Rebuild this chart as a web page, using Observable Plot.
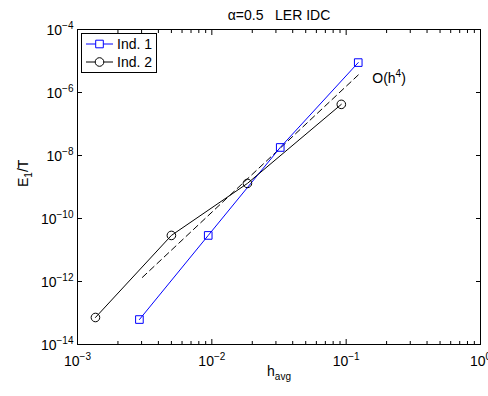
<!DOCTYPE html>
<html><head><meta charset="utf-8">
<script src="https://cdn.jsdelivr.net/npm/d3@7"></script>
<script src="https://cdn.jsdelivr.net/npm/@observablehq/plot@0.6"></script>
<style>
body{margin:0;background:#fff;}
#chart{position:relative;width:488px;height:396px;overflow:hidden;background:#fff;}
#legend{position:absolute;left:0;top:0;}
</style></head><body><div id="chart"></div>
<script>
// ---- data ----
const titleText = "α=0.5\u00a0\u00a0\u00a0LER IDC";
const xLabel = "h_{avg}";
const yLabel = "E_{1}/T";
const seriesNames = ["Ind. 1", "Ind. 2"];
const seriesColors = ["#0000ff", "#000000"];
const seriesSymbols = ["square", "circle"];
const ind1H = [0.00289, 0.0094, 0.0323, 0.123];
const ind1E = [6.2e-14, 2.9e-11, 1.8e-8, 8.9e-6];
const ind2H = [0.00136, 0.0050, 0.0184, 0.092];
const ind2E = [7.2e-14, 2.9e-11, 1.3e-9, 4.2e-7];
const refH = [0.00304, 0.123];
const refE = [1.35e-12, 3.6e-6];
const refLabel = "O(h^{4})";
const xMajor = [1e-3, 1e-2, 1e-1, 1];
const yMajor = [1e-14, 1e-12, 1e-10, 1e-8, 1e-6, 1e-4];

const xMinor = d3.scaleLog().domain([xMajor[0], xMajor[xMajor.length - 1]]).ticks()
  .filter(v => !xMajor.some(m => Math.abs(Math.log10(v) - Math.log10(m)) < 1e-9));
const pow10 = d => "10^{" + Math.round(Math.log10(d)) + "}";

const series = [
  {name: seriesNames[0], color: seriesColors[0], symbol: seriesSymbols[0], pts: ind1H.map((h, i) => ({h, e: ind1E[i]}))},
  {name: seriesNames[1], color: seriesColors[1], symbol: seriesSymbols[1], pts: ind2H.map((h, i) => ({h, e: ind2E[i]}))}
];
const refPts = refH.map((h, i) => ({h, e: refE[i]}));
const R = 4.3;

const FONT = "'Liberation Sans', Arial, Helvetica, sans-serif";

const plot = Plot.plot({
  width: 488, height: 396,
  marginLeft: 77, marginRight: 8, marginTop: 29, marginBottom: 52,
  x: {type: "log", domain: [xMajor[0], xMajor[xMajor.length - 1]]},
  y: {type: "log", domain: [yMajor[0], yMajor[yMajor.length - 1]]},
  style: {fontFamily: FONT, fontSize: "14px", background: "white", color: "black", overflow: "visible"},
  marks: [
    Plot.frame({stroke: "black"}),
    // minor & major inward ticks
    Plot.axisX(xMinor, {anchor: "bottom", tickSize: -3, fill: "none", label: null}),
    Plot.axisX(xMinor, {anchor: "top", tickSize: -3, fill: "none", label: null}),
    Plot.axisX(xMajor, {anchor: "bottom", tickSize: -5, fill: "none", label: null}),
    Plot.axisX(xMajor, {anchor: "top", tickSize: -5, fill: "none", label: null}),
    Plot.axisY(yMajor, {anchor: "left", tickSize: -5, fill: "none", label: null}),
    Plot.axisY(yMajor, {anchor: "right", tickSize: -5, fill: "none", label: null}),
    // labels
    Plot.axisX(xMajor, {anchor: "bottom", tickSize: 0, tickPadding: 12, tickFormat: pow10, label: null}),
    Plot.axisY(yMajor, {anchor: "left", tickSize: 0, tickPadding: 4, tickFormat: pow10, label: null, dy: 1}),
    // reference slope
    Plot.line(refPts, {x: "h", y: "e", stroke: "black", strokeWidth: 1, strokeDasharray: "6,4"}),
    Plot.text([refPts[refPts.length - 1]], {x: "h", y: "e", text: () => refLabel, textAnchor: "start", dx: 14, dy: 4, fontSize: 14}),
    // series
    ...series.flatMap(s => [
      Plot.line(s.pts, {x: "h", y: "e", stroke: s.color, strokeWidth: 1}),
      Plot.dot(s.pts, {x: "h", y: "e", stroke: s.color, fill: "none", symbol: s.symbol, r: R, strokeWidth: 1})
    ]),
    // title and axis labels
    Plot.text([titleText], {frameAnchor: "top", text: d => d, dy: -19, fontSize: 14}),
    Plot.text([xLabel], {frameAnchor: "bottom", text: d => d, dy: 31, fontSize: 14}),
    Plot.text([yLabel], {frameAnchor: "left", text: d => d, rotate: -90, dx: -54, fontSize: 14})
  ]
});

// rich text: ^{..} superscript, _{..} subscript
function richText(root) {
  const ns = "http://www.w3.org/2000/svg";
  root.querySelectorAll("text").forEach(t => {
    const s = t.textContent;
    if (!/[\^_]\{/.test(s)) return;
    while (t.firstChild) t.removeChild(t.firstChild);
    const re = /([\^_])\{([^}]*)\}/g;
    let last = 0, m, shift = 0;
    while ((m = re.exec(s))) {
      if (m.index > last) {
        if (shift === 0) t.appendChild(document.createTextNode(s.slice(last, m.index)));
        else { const ts = document.createElementNS(ns, "tspan"); ts.setAttribute("dy", -shift); ts.textContent = s.slice(last, m.index); t.appendChild(ts); shift = 0; }
      }
      const d = m[1] === "^" ? -6 : 4;
      const ts = document.createElementNS(ns, "tspan");
      ts.setAttribute("font-size", "10px");
      ts.setAttribute("dy", d - shift);
      ts.textContent = m[2].replace(/-/g, "\u2212");
      t.appendChild(ts);
      shift = d;
      last = re.lastIndex;
    }
    if (last < s.length) {
      const ts = document.createElementNS(ns, "tspan");
      if (shift) ts.setAttribute("dy", -shift);
      ts.textContent = s.slice(last);
      t.appendChild(ts);
    }
  });
}
richText(plot);
const chart = document.getElementById("chart");
chart.appendChild(plot);

// legend overlay
const lg = d3.select(chart).append("svg").attr("id", "legend").attr("width", 488).attr("height", 396)
  .style("font-family", FONT).style("font-size", "14px");
lg.append("rect").attr("x", 81.5).attr("y", 33.5).attr("width", 75).attr("height", 39)
  .attr("fill", "white").attr("stroke", "black");
series.forEach((s, i) => {
  const cy = 44 + i * 18;
  lg.append("line").attr("x1", 86).attr("x2", 113).attr("y1", cy).attr("y2", cy).attr("stroke", s.color);
  const sym = s.symbol === "square" ? d3.symbolSquare : d3.symbolCircle;
  lg.append("path").attr("d", d3.symbol(sym, R * R * Math.PI)()).attr("transform", `translate(99.5,${cy})`)
    .attr("fill", "white").attr("stroke", s.color);
  lg.append("text").attr("x", 117).attr("y", cy).attr("dy", "0.35em").attr("fill", "black").text(s.name);
});
</script></body></html>
